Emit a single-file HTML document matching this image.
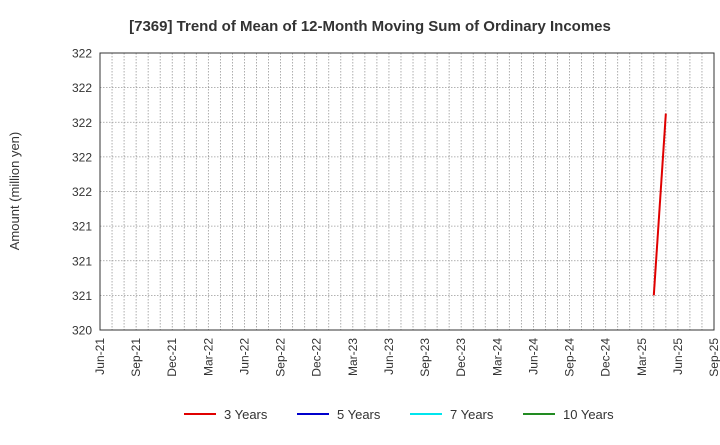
<!DOCTYPE html>
<html><head><meta charset="utf-8"><style>
body{margin:0;background:#fff;font-family:"Liberation Sans",sans-serif}
</style></head><body>
<svg id="c" width="720" height="440" xmlns="http://www.w3.org/2000/svg">
<text x="370" y="31" text-anchor="middle" font-size="15" font-weight="bold" fill="#333">[7369]  Trend of Mean of 12-Month Moving Sum of Ordinary Incomes</text>
<text transform="translate(19,191) rotate(-90)" text-anchor="middle" font-size="13" fill="#333">Amount (million yen)</text>
<g id="grid"></g><g id="axes"></g><g id="series"></g>
<g id="legend"></g>
</svg>
<script>
const xLabels=["Jun-21","Sep-21","Dec-21","Mar-22","Jun-22","Sep-22","Dec-22","Mar-23","Jun-23","Sep-23","Dec-23","Mar-24","Jun-24","Sep-24","Dec-24","Mar-25","Jun-25","Sep-25"];
const yTickValues=[320,320.2,320.4,320.6,320.8,321,321.2,321.4,321.6];
const yTickLabels=["320","321","321","321","322","322","322","322","322"];
const months3y=[46,47];
const values3y=[320.2,321.25];
const L=100,R=714,T=53,B=330,totalMonths=51,yMin=320,yMax=321.6;
const xs=m=>L+(R-L)*m/totalMonths;
const ys=v=>B-(B-T)*(v-yMin)/(yMax-yMin);
const NS="http://www.w3.org/2000/svg";
function mk(tag,attrs,parent){const e=document.createElementNS(NS,tag);for(const k in attrs)e.setAttribute(k,attrs[k]);document.getElementById(parent).appendChild(e);return e;}
for(let m=0;m<=totalMonths;m++){
 const l=mk("line",{x1:xs(m),x2:xs(m),y1:T,y2:B,stroke:"#999","stroke-width":0.8,"stroke-dasharray":"1.5,1.5"},"grid");
 
 
}
yTickValues.forEach((v,i)=>{
 const l=mk("line",{x1:L,x2:R,y1:ys(v),y2:ys(v),stroke:"#999","stroke-width":0.8,"stroke-dasharray":"1.5,1.5"},"grid");
 
 
 const t=mk("text",{x:L-8,y:ys(v)+4.5,"text-anchor":"end","font-size":12,fill:"#333"},"axes");
 t.textContent=yTickLabels[i];
 
 
});
xLabels.forEach((s,i)=>{
 const x=xs(i*3);
 const t=mk("text",{transform:`translate(${x+4},${B+8}) rotate(-90)`,"text-anchor":"end","font-size":12,fill:"#333"},"axes");
 t.textContent=s;
 
 
});
const fr=mk("rect",{x:L,y:T,width:R-L,height:B-T,fill:"none",stroke:"#333","stroke-width":1},"axes");


const pts=months3y.map((m,i)=>xs(m)+","+ys(values3y[i])).join(" ");
const pl=mk("polyline",{points:pts,fill:"none",stroke:"#e00000","stroke-width":2},"series");


const leg=[["3 Years","#e00000",184],["5 Years","#0000cc",297],["7 Years","#00e5ee",410],["10 Years","#228b22",523]];
leg.forEach(([n,c,x])=>{
 const g=mk("g",{},"legend");
 
 
 const l=document.createElementNS(NS,"line");
 [["x1",x],["x2",x+32],["y1",414],["y2",414],["stroke",c],["stroke-width",2]].forEach(a=>l.setAttribute(a[0],a[1]));
 g.appendChild(l);
 const t=document.createElementNS(NS,"text");
 [["x",x+40],["y",419],["font-size",13],["fill","#333"]].forEach(a=>t.setAttribute(a[0],a[1]));
 t.textContent=n;g.appendChild(t);
});
</script>
</body></html>
